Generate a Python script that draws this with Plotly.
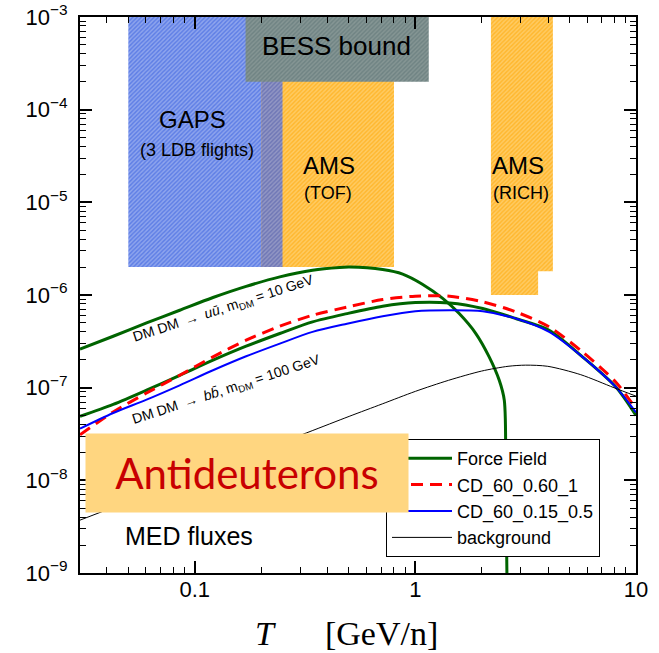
import numpy as np
import plotly.graph_objects as go

# ---------------- data ----------------
# kinetic energy per nucleon grid [GeV/n]
T_grid = [0.0302, 0.0427, 0.0605, 0.0855, 0.121, 0.171, 0.243, 0.342, 0.49,
          0.711, 1.0, 1.43, 2.02, 2.85, 4.04, 5.72, 8.09, 10.0]

# DM DM -> u ubar, m_DM = 10 GeV, force field
T_uu = [0.0302, 0.0427, 0.0605, 0.0855, 0.121, 0.171, 0.243, 0.342, 0.453,
        0.503, 0.711, 0.876, 1.08, 1.33, 1.58, 1.88, 2.16, 2.40, 2.53, 2.57, 2.63]
flux_ff_uu = [2.60e-7, 3.59e-7, 5.0e-7, 6.85e-7, 9.4e-7, 1.24e-6, 1.57e-6, 1.85e-6,
              1.98e-6, 2.0e-6, 1.88e-6, 1.68e-6, 1.30e-6, 9.2e-7, 6.3e-7, 3.84e-7,
              2.15e-7, 1.20e-7, 7.3e-8, 1.0e-8, 1.0e-10]

# DM DM -> b bbar, m_DM = 100 GeV
flux_ff_bb = [4.9e-8, 6.6e-8, 9.4e-8, 1.36e-7, 1.98e-7, 2.8e-7, 3.84e-7, 5.13e-7,
              6.3e-7, 7.57e-7, 8.3e-7, 8.2e-7, 7.15e-7, 5.57e-7, 4.17e-7, 2.15e-7,
              1.02e-7, 5.0e-8]
flux_cd_060 = [3.1e-8, 5.47e-8, 8.77e-8, 1.36e-7, 2.15e-7, 3.25e-7, 4.6e-7, 6.05e-7,
               7.4e-7, 8.93e-7, 9.7e-7, 9.7e-7, 8.43e-7, 6.58e-7, 4.53e-7, 2.43e-7,
               1.15e-7, 5.9e-8]
flux_cd_015 = [3.61e-8, 5.33e-8, 7.43e-8, 1.06e-7, 1.54e-7, 2.18e-7, 2.99e-7, 4.0e-7,
               4.9e-7, 5.9e-7, 6.68e-7, 6.85e-7, 6.68e-7, 5.57e-7, 4.0e-7, 2.15e-7,
               1.02e-7, 5.4e-8]

# secondary background
T_bkg = [0.0302, 0.32, 0.501, 0.708, 1.0, 1.413, 1.995, 2.63, 3.16, 3.98, 5.62,
         7.94, 10.0]
flux_bkg = [3.72e-9, 3.24e-8, 4.9e-8, 6.68e-8, 9.12e-8, 1.20e-7, 1.51e-7, 1.70e-7,
            1.75e-7, 1.70e-7, 1.38e-7, 1.0e-7, 8.1e-8]

# experimental sensitivities: [T_min, T_max], [flux_min, flux_max]
gaps_T = [0.05, 0.25]
gaps_flux = [2e-6, 1e-3]
ams_tof_T = [0.2, 0.8]
ams_tof_flux = [2e-6, 1e-3]
ams_rich_T = [2.2, 3.6, 4.2]          # edges of the two steps
ams_rich_floor = [1e-6, 1.8e-6]       # lower bound on each step
ams_rich_top = 1e-3
bess_T = [0.17, 1.15]
bess_flux = [2e-4, 1e-3]

y_tick_vals = [1e-9, 1e-8, 1e-7, 1e-6, 1e-5, 1e-4, 1e-3]
y_tick_text = ["10<sup>\u22129</sup>", "10<sup>\u22128</sup>", "10<sup>\u22127</sup>",
               "10<sup>\u22126</sup>", "10<sup>\u22125</sup>", "10<sup>\u22124</sup>",
               "10<sup>\u22123</sup>"]
x_tick_vals = [0.1, 1, 10]
x_tick_text = ["0.1", "1", "10"]

# ---------------- figure ----------------
SANS = "Liberation Sans, Arial, Helvetica, sans-serif"
fig = go.Figure()

BLUE_BG, BLUE_FG = "rgb(96,128,230)", "rgb(196,208,246)"
ORNG_BG, ORNG_FG = "rgb(255,184,48)", "rgb(255,226,160)"
MIX_BG, MIX_FG = "rgb(112,120,182)", "rgb(185,185,212)"
GREY_BG, GREY_FG = "rgb(112,132,132)", "rgb(158,170,166)"


def patch(xs, ys, bg, fg):
    fig.add_trace(go.Scatter(
        x=xs, y=ys, mode="lines", fill="toself", line=dict(width=0),
        fillcolor=bg, fillpattern=dict(shape="/", bgcolor=bg, fgcolor=fg,
                                       size=3, solidity=0.45),
        hoverinfo="skip", showlegend=False))


def box(tx, fy, bg, fg):
    patch([tx[0], tx[1], tx[1], tx[0], tx[0]],
          [fy[0], fy[0], fy[1], fy[1], fy[0]], bg, fg)


# GAPS, AMS-TOF and their overlap
box(gaps_T, gaps_flux, BLUE_BG, BLUE_FG)
box(ams_tof_T, ams_tof_flux, ORNG_BG, ORNG_FG)
overlap_T = [max(gaps_T[0], ams_tof_T[0]), min(gaps_T[1], ams_tof_T[1])]
overlap_flux = [max(gaps_flux[0], ams_tof_flux[0]), min(gaps_flux[1], ams_tof_flux[1])]
box(overlap_T, overlap_flux, MIX_BG, MIX_FG)

# AMS-RICH, stepped lower edge
rx = [ams_rich_T[0], ams_rich_T[1], ams_rich_T[1], ams_rich_T[2], ams_rich_T[2],
      ams_rich_T[0], ams_rich_T[0]]
ry = [ams_rich_floor[0], ams_rich_floor[0], ams_rich_floor[1], ams_rich_floor[1],
      ams_rich_top, ams_rich_top, ams_rich_floor[0]]
patch(rx, ry, ORNG_BG, ORNG_FG)

# BESS bound
box(bess_T, bess_flux, GREY_BG, GREY_FG)

GREEN = "rgb(0,100,0)"
# curves
fig.add_trace(go.Scatter(x=T_uu, y=flux_ff_uu, mode="lines", showlegend=False,
                         line=dict(color=GREEN, width=3, shape="spline", smoothing=0.8)))
fig.add_trace(go.Scatter(x=T_grid, y=flux_ff_bb, mode="lines", name="Force Field",
                         line=dict(color=GREEN, width=3, shape="spline", smoothing=0.8)))
fig.add_trace(go.Scatter(x=T_grid, y=flux_cd_060, mode="lines", name="CD_60_0.60_1",
                         line=dict(color="rgb(255,0,0)", width=3, dash="12px,7px",
                                   shape="spline", smoothing=0.8)))
fig.add_trace(go.Scatter(x=T_grid, y=flux_cd_015, mode="lines", name="CD_60_0.15_0.5",
                         line=dict(color="rgb(0,0,255)", width=2, shape="spline",
                                   smoothing=0.8)))
fig.add_trace(go.Scatter(x=T_bkg, y=flux_bkg, mode="lines", name="background",
                         line=dict(color="black", width=1, shape="spline", smoothing=0.8)))

# ---------------- axes ----------------
minor_x = [v * 10 ** d for d in (-2, -1, 0) for v in range(2, 10)]
minor_x = [v for v in minor_x if 0.03 <= v <= 10]
minor_y = [v * 10.0 ** d for d in range(-9, -3) for v in range(2, 10)]

axis_common = dict(showline=True, linecolor="black", linewidth=2, mirror="allticks",
                   ticks="inside", ticklen=12, tickwidth=1.5, tickcolor="black",
                   showgrid=False, zeroline=False, automargin=False,
                   tickfont=dict(family=SANS, size=22, color="black"))
fig.update_xaxes(type="log", range=[np.log10(0.0302), 1], tickmode="array",
                 tickvals=x_tick_vals, ticktext=x_tick_text, ticklabelstandoff=-4,
                 minor=dict(tickmode="array", tickvals=minor_x, ticks="inside",
                            ticklen=6, tickwidth=1, tickcolor="black", showgrid=False),
                 **axis_common)
fig.update_yaxes(type="log", range=[-9, -3], tickmode="array",
                 tickvals=y_tick_vals, ticktext=y_tick_text, ticklabelstandoff=6,
                 minor=dict(tickmode="array", tickvals=minor_y, ticks="inside",
                            ticklen=6, tickwidth=1, tickcolor="black", showgrid=False),
                 **axis_common)

# ---------------- text ----------------
L, R, TOP, B = 80, 23, 17, 80
W, H = 659, 653
pw, ph = W - L - R, H - TOP - B


def px(xp, yp):
    return (xp - L) / pw, (H - B - yp) / ph


annots = []


def label(text, xp, yp, size, color="black", family=SANS, angle=0):
    ax, ay = px(xp, yp)
    annots.append(dict(text=text, x=ax, y=ay, xref="paper", yref="paper",
                       xanchor="center", yanchor="middle", showarrow=False,
                       textangle=angle, font=dict(family=family, size=size, color=color)))


label("BESS bound", 336, 46, 26)
label("GAPS", 192, 120, 24)
label("(3 LDB flights)", 197, 150, 18)
label("AMS", 329, 165, 24)
label("(TOF)", 328, 193, 18)
label("AMS", 518, 165, 24)
label("(RICH)", 521, 193, 18)
label("MED fluxes", 189, 536, 25)
label("DM DM \u2009\u2192\u2009 <i>u\u016b</i>, m<sub>DM</sub> = 10 GeV", 223, 309, 14, angle=-18)
label("DM DM \u2009\u2192\u2009 <i>b\u0062\u0304</i>, m<sub>DM</sub> = 100 GeV", 226, 390, 14, angle=-18)
label("<i>T</i>&nbsp;&nbsp;&nbsp;&nbsp;&nbsp;&nbsp;[GeV/n]", 346, 633, 34,
      family="Liberation Serif, Times New Roman, serif")

# Antideuterons tag
bx, by = px(247, 473)
annots.append(dict(text="Antideuterons", x=bx, y=by, xref="paper", yref="paper",
                   xanchor="center", yanchor="middle", showarrow=False,
                   width=322, height=78, bgcolor="rgb(255,214,128)", borderpad=0,
                   font=dict(family="Lato, Open Sans, sans-serif", size=42,
                             color="rgb(200,0,0)")))

lx, ly = px(386, 439)
fig.update_layout(
    width=W, height=H, margin=dict(l=L, r=R, t=TOP, b=B, autoexpand=False),
    paper_bgcolor="white", plot_bgcolor="white",
    annotations=annots,
    legend=dict(x=lx, y=ly, xanchor="left", yanchor="top", bgcolor="white",
                bordercolor="black", borderwidth=1, itemwidth=60,
                entrywidth=143, entrywidthmode="pixels",
                font=dict(family=SANS, size=18, color="black")),
)

fig.write_html("out.html")
